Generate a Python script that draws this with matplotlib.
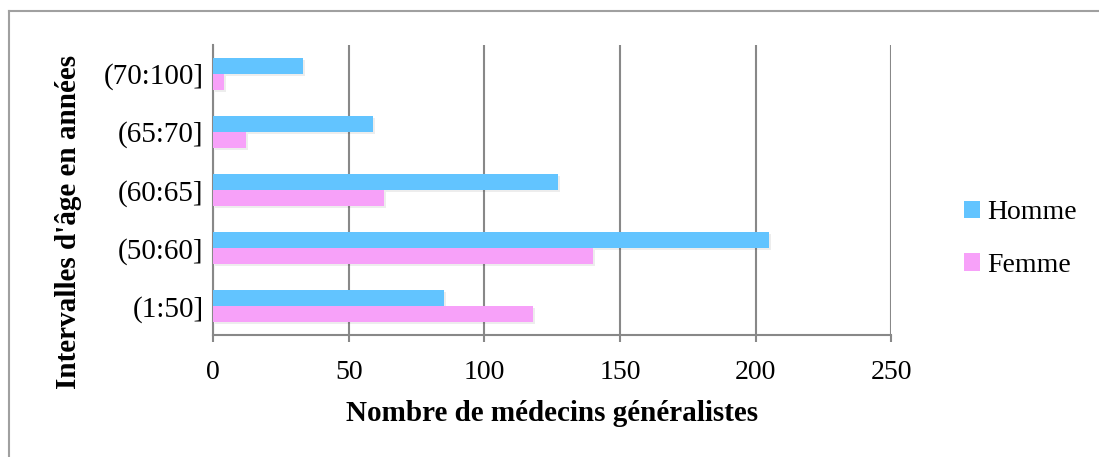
import matplotlib.pyplot as plt
import numpy as np
from matplotlib.lines import Line2D

categories = ['(1:50]', '(50:60]', '(60:65]', '(65:70]', '(70:100]']
homme = [85, 205, 127, 59, 33]
femme = [118, 140, 63, 12, 4]

plt.rcParams['font.family'] = ['Liberation Serif', 'DejaVu Serif']

fig = plt.figure(figsize=(10.99, 4.57), dpi=100)
ax = fig.add_axes([0.194, 0.267, 0.617, 0.635])

y = np.arange(len(categories))
h = 0.276
c_h = '#62c4ff'
c_f = '#f7a1f9'

# soft drop shadow
ax.barh(y + h / 2 - 0.035, homme, height=h, left=0.8, color='#000000', alpha=0.07, zorder=2)
ax.barh(y - h / 2 - 0.035, femme, height=h, left=0.8, color='#000000', alpha=0.07, zorder=2)
ax.barh(y + h / 2, homme, height=h, color=c_h, label='Homme', zorder=3)
ax.barh(y - h / 2, femme, height=h, color=c_f, label='Femme', zorder=3)

ax.set_xlim(0, 250)
ax.set_ylim(-0.5, 4.5)
ax.set_xticks([0, 50, 100, 150, 200, 250])
ax.set_yticks(y)
ax.set_yticklabels(categories, fontsize=21)
ax.tick_params(axis='x', labelsize=20)
ax.tick_params(axis='y', length=0, pad=7)
ax.tick_params(axis='x', length=5, color='#888888', width=1.5, pad=13)
ax.grid(axis='x', color='#888888', linewidth=1.5, zorder=1)
for s in ['top', 'right']:
    ax.spines[s].set_visible(False)
for s in ['left', 'bottom']:
    ax.spines[s].set_color('#888888')
    ax.spines[s].set_linewidth(1.5)

ax.set_xlabel('Nombre de médecins généralistes', fontsize=21, fontweight='bold', labelpad=11)
ax.set_ylabel("Intervalles d'âge en années", fontsize=21, fontweight='bold')
ax.yaxis.set_label_coords(-0.194, 0.39)

ax.legend(loc='center left', bbox_to_anchor=(1.07, 0.33), frameon=False, fontsize=20,
          handlelength=0.6, handleheight=0.6, handletextpad=0.25, labelspacing=1.0)

# figure frame (top and left edges only visible)
fig.lines.append(Line2D([9 / 1099, 1.0], [1 - 11 / 457, 1 - 11 / 457], transform=fig.transFigure,
                        color='#a0a0a0', linewidth=1.5))
fig.lines.append(Line2D([9 / 1099, 9 / 1099], [0.0, 1 - 11 / 457], transform=fig.transFigure,
                        color='#a0a0a0', linewidth=1.5))

fig.savefig('out.png', dpi=100)
